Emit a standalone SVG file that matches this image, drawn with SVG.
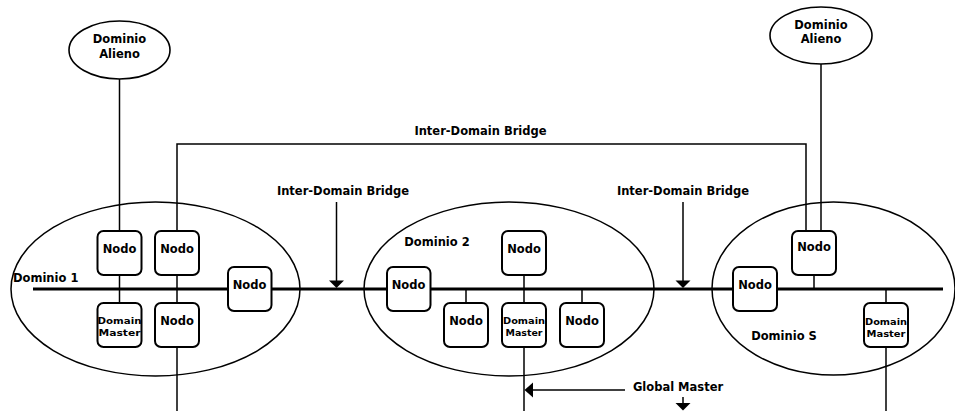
<svg xmlns="http://www.w3.org/2000/svg" width="955" height="411" viewBox="0 0 955 411">
  <style>
    .bg { fill: #ffffff; }
    .line { stroke: #000; stroke-width: 1.5; fill: none; }
    .bus { stroke: #000; stroke-width: 3.2; fill: none; }
    .domain { stroke: #000; stroke-width: 1.5; fill: none; }
    .alien { stroke: #000; stroke-width: 1.6; fill: #fff; }
    .box { stroke: #000; stroke-width: 2; fill: #fff; }
    .head { fill: #000; stroke: none; }
    text { font-family: "DejaVu Sans", "Liberation Sans", sans-serif; font-weight: bold; fill: #000; }
    .lbl { font-size: 11.5px; }
    .nodo { font-size: 11.5px; text-anchor: middle; }
    .dm { font-size: 9.5px; text-anchor: middle; }
  </style>

  <rect class="bg" x="0" y="0" width="955" height="411"/>

  <!-- domain ellipses -->
  <g id="dominio-1">
    <ellipse class="domain" cx="155.5" cy="289" rx="144.5" ry="87"/>
    <text class="lbl" x="13" y="282">Dominio 1</text>
  </g>
  <g id="dominio-2">
    <ellipse class="domain" cx="509" cy="289" rx="145" ry="87"/>
    <text class="lbl" x="437" y="246" text-anchor="middle">Dominio 2</text>
  </g>
  <g id="dominio-s">
    <ellipse class="domain" cx="833.5" cy="288.5" rx="121.5" ry="86.5"/>
    <text class="lbl" x="784" y="340" text-anchor="middle">Dominio S</text>
  </g>

  <!-- connectors -->
  <g id="connectors">
    <!-- shared bus -->
    <line class="bus" x1="33" y1="289" x2="943" y2="289"/>
    <!-- alien domain links -->
    <line class="line" x1="119.5" y1="79" x2="119.5" y2="231"/>
    <line class="line" x1="821" y1="64" x2="821" y2="231"/>
    <!-- long inter-domain bridge -->
    <polyline class="line" points="177,231 177,144 806,144 806,231"/>
    <!-- domain 1 drops -->
    <line class="line" x1="119.5" y1="275" x2="119.5" y2="303"/>
    <line class="line" x1="177" y1="275" x2="177" y2="303"/>
    <line class="line" x1="177" y1="347" x2="177" y2="411"/>
    <!-- domain 2 drops -->
    <line class="line" x1="524" y1="275" x2="524" y2="303"/>
    <line class="line" x1="524" y1="347" x2="524" y2="411"/>
    <line class="line" x1="466" y1="289" x2="466" y2="303"/>
    <line class="line" x1="582" y1="289" x2="582" y2="303"/>
    <!-- domain S drops -->
    <line class="line" x1="814" y1="275" x2="814" y2="289"/>
    <line class="line" x1="886" y1="289" x2="886" y2="303"/>
    <line class="line" x1="886" y1="347" x2="886" y2="411"/>
    <!-- bridge pointers -->
    <line class="line" x1="336.5" y1="202" x2="336.5" y2="282"/>
    <polygon class="head" points="329,280.5 344,280.5 336.5,288"/>
    <line class="line" x1="683" y1="202" x2="683" y2="282"/>
    <polygon class="head" points="675.5,280.5 690.5,280.5 683,288"/>
    <!-- global master pointers -->
    <line class="line" x1="625" y1="390" x2="531" y2="390"/>
    <polygon class="head" points="524.5,390 533,382.5 533,397.5"/>
    <line class="line" x1="683" y1="397" x2="683" y2="404"/>
    <polygon class="head" points="675.5,403 690.5,403 683,410.5"/>
  </g>

  <!-- alien domains -->
  <g id="alieno-1">
    <ellipse class="alien" cx="119.5" cy="50" rx="50.5" ry="29"/>
    <text class="nodo" x="119.5" y="43">Dominio</text>
    <text class="nodo" x="119.5" y="58">Alieno</text>
  </g>
  <g id="alieno-2">
    <ellipse class="alien" cx="821" cy="35.5" rx="51" ry="28.5"/>
    <text class="nodo" x="821" y="29">Dominio</text>
    <text class="nodo" x="821" y="43">Alieno</text>
  </g>

  <!-- labels -->
  <g id="labels">
    <text class="lbl" x="480.5" y="135" text-anchor="middle">Inter-Domain Bridge</text>
    <text class="lbl" x="343" y="195" text-anchor="middle">Inter-Domain Bridge</text>
    <text class="lbl" x="683" y="195" text-anchor="middle">Inter-Domain Bridge</text>
    <text class="lbl" x="678" y="391" text-anchor="middle">Global Master</text>
  </g>

  <!-- domain 1 nodes -->
  <g id="d1-nodo-a">
    <rect class="box" x="97.5" y="231" width="44" height="44" rx="6"/>
    <text class="nodo" x="119.5" y="253">Nodo</text>
  </g>
  <g id="d1-nodo-b">
    <rect class="box" x="155" y="231" width="44" height="44" rx="6"/>
    <text class="nodo" x="177" y="253">Nodo</text>
  </g>
  <g id="d1-nodo-bus">
    <rect class="box" x="228" y="267" width="43.5" height="44" rx="6"/>
    <text class="nodo" x="249.5" y="289">Nodo</text>
  </g>
  <g id="d1-master">
    <rect class="box" x="97.5" y="303" width="44" height="44" rx="6"/>
    <text class="dm" x="119.5" y="324" textLength="44" lengthAdjust="spacingAndGlyphs">Domain</text>
    <text class="dm" x="119.5" y="336" textLength="42" lengthAdjust="spacingAndGlyphs">Master</text>
  </g>
  <g id="d1-nodo-c">
    <rect class="box" x="155" y="303" width="44" height="44" rx="6"/>
    <text class="nodo" x="177" y="325">Nodo</text>
  </g>

  <!-- domain 2 nodes -->
  <g id="d2-nodo-bus">
    <rect class="box" x="387" y="267" width="43.5" height="44" rx="6"/>
    <text class="nodo" x="408.5" y="289">Nodo</text>
  </g>
  <g id="d2-nodo-top">
    <rect class="box" x="502" y="231" width="44" height="44" rx="6"/>
    <text class="nodo" x="524" y="253">Nodo</text>
  </g>
  <g id="d2-nodo-left">
    <rect class="box" x="444" y="303" width="44" height="44" rx="6"/>
    <text class="nodo" x="466" y="325">Nodo</text>
  </g>
  <g id="d2-master">
    <rect class="box" x="502" y="303" width="44" height="44" rx="6"/>
    <text class="dm" x="524" y="324" textLength="42" lengthAdjust="spacingAndGlyphs">Domain</text>
    <text class="dm" x="524" y="336" textLength="37" lengthAdjust="spacingAndGlyphs">Master</text>
  </g>
  <g id="d2-nodo-right">
    <rect class="box" x="560" y="303" width="44" height="44" rx="6"/>
    <text class="nodo" x="582" y="325">Nodo</text>
  </g>

  <!-- domain S nodes -->
  <g id="ds-nodo-bus">
    <rect class="box" x="733" y="267" width="44" height="44" rx="6"/>
    <text class="nodo" x="755" y="289">Nodo</text>
  </g>
  <g id="ds-nodo-top">
    <rect class="box" x="792" y="231" width="44" height="44" rx="6"/>
    <text class="nodo" x="814" y="251">Nodo</text>
  </g>
  <g id="ds-master">
    <rect class="box" x="864" y="303" width="44" height="44" rx="6"/>
    <text class="dm" x="886" y="325" textLength="42" lengthAdjust="spacingAndGlyphs">Domain</text>
    <text class="dm" x="886" y="337" textLength="39" lengthAdjust="spacingAndGlyphs">Master</text>
  </g>
</svg>
